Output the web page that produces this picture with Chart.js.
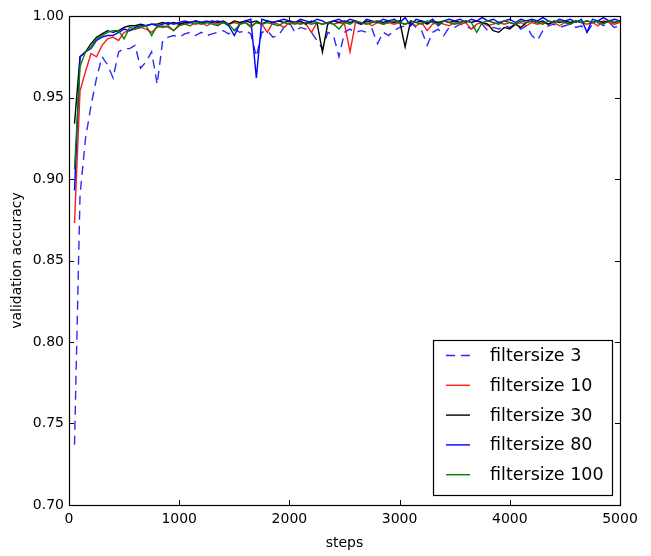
<!DOCTYPE html>
<html>
<head>
<meta charset="utf-8">
<script src="https://cdn.jsdelivr.net/npm/chart.js@4/dist/chart.umd.min.js"></script>
<style>
html,body{margin:0;padding:0;background:#fff;}
#wrap{width:651px;height:556px;}
</style>
</head>
<body>
<div id="wrap"><canvas id="c" width="651" height="556"></canvas></div>
<script>
const steps = [50,100,150,200,250,300,350,400,450,500,
550,600,650,700,750,800,850,900,950,1000,
1050,1100,1150,1200,1250,1300,1350,1400,1450,1500,
1550,1600,1650,1700,1750,1800,1850,1900,1950,2000,
2050,2100,2150,2200,2250,2300,2350,2400,2450,2500,
2550,2600,2650,2700,2750,2800,2850,2900,2950,3000,
3050,3100,3150,3200,3250,3300,3350,3400,3450,3500,
3550,3600,3650,3700,3750,3800,3850,3900,3950,4000,
4050,4100,4150,4200,4250,4300,4350,4400,4450,4500,
4550,4600,4650,4700,4750,4800,4850,4900,4950,5000];

const seriesLabels = ['filtersize 3','filtersize 10','filtersize 30','filtersize 80','filtersize 100'];

const fs3 = [0.737,0.890,0.925,0.945,0.962,0.975,0.970,0.962,0.978,0.980,
0.980,0.982,0.968,0.972,0.978,0.958,0.985,0.987,0.988,0.987,
0.989,0.990,0.988,0.990,0.988,0.989,0.990,0.991,0.989,0.992,
0.990,0.991,0.989,0.975,0.990,0.991,0.987,0.988,0.993,0.996,
0.990,0.993,0.992,0.990,0.985,0.980,0.990,0.988,0.975,0.990,
0.992,0.990,0.991,0.990,0.992,0.983,0.990,0.988,0.991,0.993,
0.994,0.996,0.993,0.991,0.982,0.990,0.992,0.988,0.993,0.993,
0.995,0.994,0.992,0.994,0.995,0.991,0.993,0.992,0.994,0.993,
0.995,0.992,0.994,0.988,0.985,0.991,0.994,0.995,0.993,0.994,
0.995,0.993,0.994,0.990,0.995,0.996,0.994,0.996,0.993,0.994];

const fs10 = [0.873,0.954,0.966,0.977,0.975,0.982,0.986,0.987,0.985,0.990,
0.991,0.992,0.993,0.992,0.990,0.993,0.994,0.993,0.991,0.995,
0.995,0.996,0.995,0.996,0.994,0.996,0.995,0.996,0.995,0.996,
0.995,0.996,0.994,0.996,0.995,0.990,0.996,0.995,0.993,0.996,
0.995,0.996,0.995,0.990,0.996,0.995,0.996,0.995,0.996,0.995,
0.978,0.996,0.995,0.996,0.994,0.996,0.995,0.996,0.995,0.996,
0.995,0.996,0.994,0.996,0.991,0.995,0.996,0.995,0.994,0.996,
0.995,0.996,0.992,0.995,0.996,0.994,0.995,0.996,0.995,0.996,
0.995,0.996,0.994,0.996,0.995,0.996,0.995,0.996,0.994,0.996,
0.995,0.997,0.996,0.995,0.996,0.994,0.997,0.996,0.995,0.996];

const fs30 = [0.934,0.975,0.978,0.983,0.987,0.989,0.991,0.990,0.991,0.993,
0.994,0.994,0.995,0.994,0.995,0.995,0.996,0.995,0.996,0.995,
0.996,0.996,0.997,0.996,0.996,0.997,0.996,0.997,0.995,0.997,
0.996,0.997,0.996,0.997,0.995,0.997,0.996,0.997,0.996,0.997,
0.996,0.997,0.995,0.997,0.996,0.978,0.996,0.997,0.996,0.997,
0.996,0.997,0.995,0.997,0.996,0.997,0.996,0.997,0.996,0.997,
0.981,0.997,0.996,0.997,0.995,0.997,0.996,0.997,0.996,0.997,
0.996,0.997,0.996,0.997,0.996,0.995,0.991,0.990,0.993,0.992,
0.995,0.993,0.996,0.997,0.996,0.997,0.995,0.997,0.996,0.997,
0.996,0.997,0.996,0.997,0.996,0.997,0.996,0.997,0.996,0.997];

const fs80 = [0.893,0.975,0.978,0.980,0.985,0.987,0.988,0.988,0.990,0.992,
0.991,0.993,0.994,0.994,0.995,0.994,0.995,0.996,0.995,0.996,
0.997,0.996,0.997,0.996,0.997,0.996,0.997,0.996,0.994,0.988,
0.995,0.997,0.998,0.962,0.998,0.997,0.996,0.997,0.998,0.997,
0.996,0.998,0.997,0.996,0.998,0.997,0.995,0.997,0.998,0.996,
0.998,0.997,0.995,0.998,0.997,0.996,0.998,0.997,0.998,0.996,
0.999,0.994,0.998,0.997,0.996,0.998,0.994,0.997,0.998,0.997,
0.998,0.996,0.998,0.997,0.999,0.997,0.998,0.996,0.997,0.998,
0.996,0.998,0.997,0.998,0.997,0.999,0.997,0.996,0.998,0.997,
0.998,0.996,0.998,0.990,0.998,0.997,0.999,0.997,0.998,0.997];

const fs100 = [0.906,0.969,0.978,0.981,0.986,0.988,0.990,0.991,0.991,0.986,
0.993,0.992,0.993,0.994,0.988,0.994,0.993,0.994,0.991,0.994,
0.995,0.994,0.996,0.995,0.996,0.995,0.994,0.996,0.995,0.991,
0.995,0.996,0.993,0.996,0.995,0.996,0.995,0.994,0.996,0.995,
0.996,0.995,0.996,0.995,0.996,0.995,0.996,0.995,0.992,0.996,
0.995,0.997,0.996,0.995,0.996,0.997,0.995,0.996,0.997,0.996,
0.995,0.997,0.996,0.995,0.997,0.996,0.995,0.997,0.996,0.995,
0.996,0.997,0.996,0.990,0.996,0.997,0.996,0.995,0.997,0.996,
0.995,0.997,0.996,0.997,0.996,0.995,0.997,0.996,0.997,0.996,
0.995,0.997,0.996,0.997,0.996,0.997,0.995,0.997,0.996,0.997];

const xTicks = [0,1000,2000,3000,4000,5000];
const yTicks = [0.70,0.75,0.80,0.85,0.90,0.95,1.00];

const FONT = "'DejaVu Sans', sans-serif";
Chart.defaults.font.family = "'DejaVu Sans', sans-serif";
Chart.defaults.color = '#000';

function pts(vals){ return vals.map((v,i)=>({x:steps[i], y:v})); }

const colors = ['#2a2aff','#ff1a1a','#000000','#0000ff','#008000'];
const dashes = [[9,6],[],[],[],[]];
const allSeries = [fs3, fs10, fs30, fs80, fs100];

const datasets = allSeries.map((s,k)=>({
  label: seriesLabels[k],
  data: pts(s),
  borderColor: colors[k],
  borderWidth: 1.4,
  borderDash: dashes[k],
  pointRadius: 0,
  tension: 0,
  fill: false,
  order: 5-k
}));

const framePlugin = {
  id: 'frame',
  afterDraw(chart){
    const ctx = chart.ctx;
    const a = chart.chartArea;
    const xs = chart.scales.x, ys = chart.scales.y;
    ctx.save();
    ctx.strokeStyle = '#000';
    ctx.lineWidth = 1;
    const tl = 5;
    ctx.beginPath();
    xTicks.forEach(v=>{
      const px = Math.round(xs.getPixelForValue(v))+0.5;
      ctx.moveTo(px, a.bottom); ctx.lineTo(px, a.bottom - tl);
      ctx.moveTo(px, a.top); ctx.lineTo(px, a.top + tl);
    });
    yTicks.forEach(v=>{
      const py = Math.round(ys.getPixelForValue(v))+0.5;
      ctx.moveTo(a.left, py); ctx.lineTo(a.left + tl, py);
      ctx.moveTo(a.right, py); ctx.lineTo(a.right - tl, py);
    });
    ctx.stroke();
    ctx.lineWidth = 1.2;
    ctx.strokeRect(Math.round(a.left)+0.5, Math.round(a.top)+0.5, Math.round(a.right-a.left), Math.round(a.bottom-a.top));

    // legend
    const bx = a.right - 187, by = a.bottom - 165, bw = 179, bh = 155;
    ctx.fillStyle = '#fff';
    ctx.fillRect(bx, by, bw, bh);
    ctx.lineWidth = 1.2;
    ctx.strokeStyle = '#000';
    ctx.strokeRect(bx+0.5, by+0.5, bw, bh);
    ctx.font = "17.5px " + FONT;
    ctx.textBaseline = 'middle';
    ctx.textAlign = 'left';
    chart.data.datasets.forEach((d,i)=>{
      const cy = by + 15.5 + i*29.8;
      ctx.beginPath();
      ctx.strokeStyle = d.borderColor;
      ctx.lineWidth = 1.4;
      ctx.setLineDash(d.borderDash || []);
      ctx.moveTo(bx+13, cy); ctx.lineTo(bx+37, cy);
      ctx.stroke();
      ctx.setLineDash([]);
      ctx.fillStyle = '#000';
      ctx.fillText(d.label, bx+57, cy+1);
    });
    ctx.restore();
  }
};

new Chart(document.getElementById('c'), {
  type: 'line',
  data: { datasets },
  options: {
    responsive: false,
    animation: false,
    devicePixelRatio: 1,
    layout: { padding: { top: 16, right: 31, left: 0, bottom: 0 } },
    plugins: { legend: { display: false }, tooltip: { enabled: false } },
    scales: {
      x: {
        type: 'linear', min: 0, max: 5000,
        afterBuildTicks(s){ s.ticks = xTicks.map(v=>({value:v})); },
        afterFit(s){ s.height = 51; },
        grid: { display: false, drawTicks: false },
        border: { display: false },
        ticks: { padding: 6, font: { size: 14 }, color: '#000', maxRotation: 0, callback: v => String(v) },
        title: { display: true, text: 'steps', font: { size: 14 }, color: '#000', padding: { top: 0, bottom: 4 } }
      },
      y: {
        type: 'linear', min: 0.70, max: 1.00,
        afterBuildTicks(s){ s.ticks = yTicks.map(v=>({value:v})); },
        afterFit(s){ s.width = 69; },
        grid: { display: false, drawTicks: false },
        border: { display: false },
        ticks: { padding: 5, font: { size: 14 }, color: '#000', callback: v => Number(v).toFixed(2) },
        title: { display: true, text: 'validation accuracy', font: { size: 14 }, color: '#000', padding: { top: 9, bottom: 0 } }
      }
    }
  },
  plugins: [framePlugin]
});
</script>
</body>
</html>
